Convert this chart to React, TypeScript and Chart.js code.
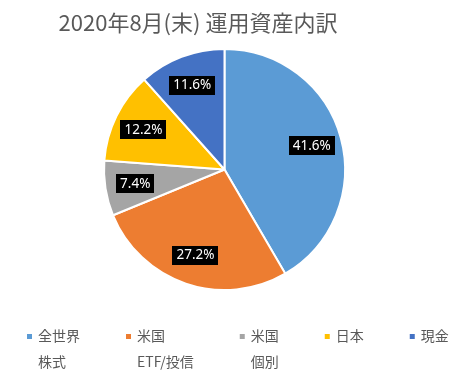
import React, { useEffect, useRef } from "react";
import { Chart, registerables } from "chart.js";

Chart.register(...registerables);

const titleText = "2020年8月(末) 運用資産内訳";
const categories = ["全世界株式", "米国ETF/投信", "米国個別", "日本", "現金"];
const shares = [41.6, 27.2, 7.4, 12.2, 11.6];
const legendLines = [["全世界", "株式"], ["米国", "ETF/投信"], ["米国", "個別"], ["日本"], ["現金"]];
const colors = ["#5B9BD5", "#ED7D31", "#A5A5A5", "#FFC000", "#4472C4"];

const CJK = '"Noto Sans CJK JP", "Noto Sans", sans-serif';

const overlayPlugin = {
  id: "overlay",
  afterDraw(chart: any) {
    const ctx = chart.ctx;
    ctx.save();
    // title
    ctx.font = `22px ${CJK}`;
    ctx.fillStyle = "#595959";
    ctx.textAlign = "center";
    ctx.textBaseline = "middle";
    ctx.fillText(titleText, 198, 23);

    // data labels
    const meta = chart.getDatasetMeta(0);
    ctx.font = `13.5px "Noto Sans", sans-serif`;
    meta.data.forEach((arc: any, i: number) => {
      const p = arc.getProps(["startAngle", "endAngle", "outerRadius", "x", "y"], true);
      const mid = (p.startAngle + p.endAngle) / 2;
      const r = p.outerRadius * 0.75;
      const cx = p.x + Math.cos(mid) * r;
      const cy = p.y + Math.sin(mid) * r;
      const txt = shares[i].toFixed(1) + "%";
      const w = ctx.measureText(txt).width + 8;
      const h = 19;
      ctx.fillStyle = "#000";
      ctx.fillRect(Math.round(cx - w / 2), Math.round(cy - h / 2), Math.round(w), h);
      ctx.fillStyle = "#fff";
      ctx.textAlign = "center";
      ctx.textBaseline = "middle";
      ctx.fillText(txt, cx, cy + 0.5);
    });

    // legend
    ctx.font = `14px ${CJK}`;
    ctx.textAlign = "left";
    ctx.textBaseline = "middle";
    let x = 27;
    legendLines.forEach((lines, i) => {
      ctx.fillStyle = colors[i];
      ctx.fillRect(x, 334, 5, 5);
      ctx.fillStyle = "#595959";
      let maxW = 0;
      lines.forEach((ln, j) => {
        ctx.fillText(ln, x + 11, 336 + j * 26);
        maxW = Math.max(maxW, ctx.measureText(ln).width);
      });
      x += 11 + maxW + 46;
    });
    ctx.restore();
  },
};

export default function App() {
  const ref = useRef<HTMLCanvasElement>(null);
  useEffect(() => {
    document.body.style.margin = "0";
    const chart = new Chart(ref.current!, {
      type: "pie",
      data: {
        labels: categories,
        datasets: [
          {
            data: shares,
            backgroundColor: colors,
            borderColor: "#ffffff",
            borderWidth: 2,
          },
        ],
      },
      options: {
        animation: false,
        responsive: false,
        maintainAspectRatio: false,
        layout: { padding: { top: 48, left: 103, right: 128, bottom: 88 } },
        plugins: {
          legend: { display: false },
          title: { display: false },
          tooltip: { enabled: false },
        },
      },
      plugins: [overlayPlugin],
    });
    return () => chart.destroy();
  }, []);
  return (
    <div style={{ width: 474, height: 379, background: "#fff" }}>
      <canvas ref={ref} width={474} height={379} style={{ display: "block" }} />
    </div>
  );
}
